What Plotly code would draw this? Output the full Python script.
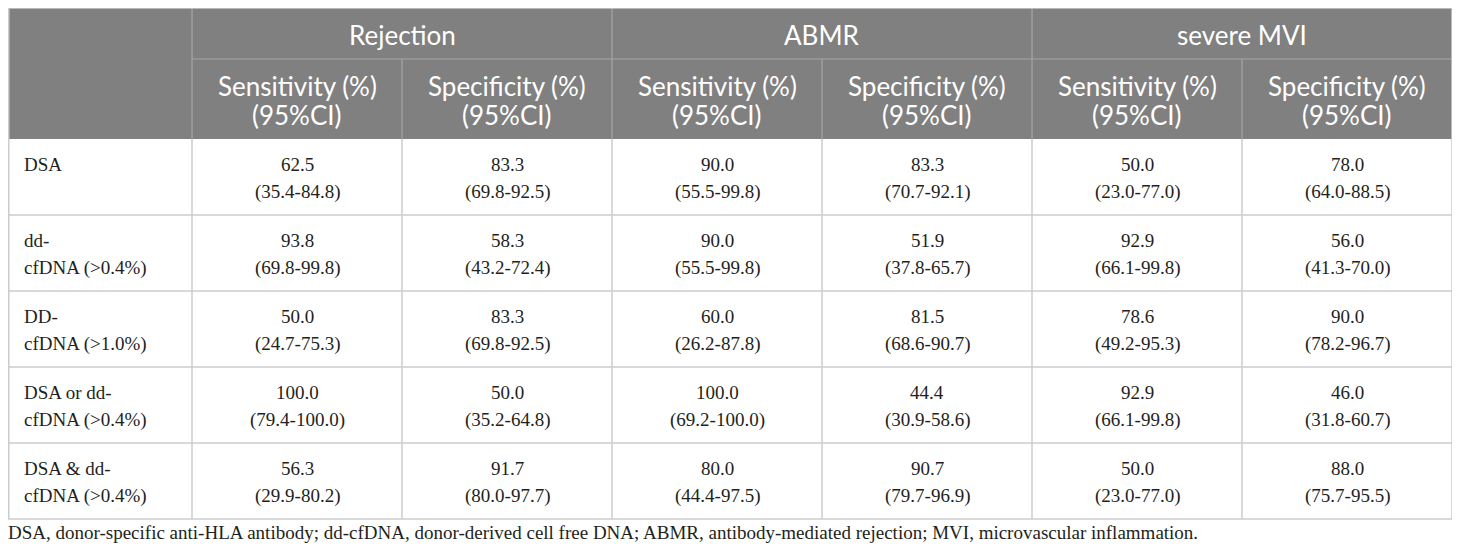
import plotly.graph_objects as go

# ---------------- data ----------------
groups = ["Rejection", "ABMR", "severe MVI"]
metrics = ["Sensitivity (%)", "Specificity (%)"]
metric_sub = "(95%CI)"
row_labels = [
    ["DSA"],
    ["dd-", "cfDNA (>0.4%)"],
    ["DD-", "cfDNA (>1.0%)"],
    ["DSA or dd-", "cfDNA (>0.4%)"],
    ["DSA & dd-", "cfDNA (>0.4%)"],
]

rej_sens = [62.5, 93.8, 50.0, 100.0, 56.3]
rej_sens_lo = [35.4, 69.8, 24.7, 79.4, 29.9]
rej_sens_hi = [84.8, 99.8, 75.3, 100.0, 80.2]
rej_spec = [83.3, 58.3, 83.3, 50.0, 91.7]
rej_spec_lo = [69.8, 43.2, 69.8, 35.2, 80.0]
rej_spec_hi = [92.5, 72.4, 92.5, 64.8, 97.7]

abmr_sens = [90.0, 90.0, 60.0, 100.0, 80.0]
abmr_sens_lo = [55.5, 55.5, 26.2, 69.2, 44.4]
abmr_sens_hi = [99.8, 99.8, 87.8, 100.0, 97.5]
abmr_spec = [83.3, 51.9, 81.5, 44.4, 90.7]
abmr_spec_lo = [70.7, 37.8, 68.6, 30.9, 79.7]
abmr_spec_hi = [92.1, 65.7, 90.7, 58.6, 96.9]

mvi_sens = [50.0, 92.9, 78.6, 92.9, 50.0]
mvi_sens_lo = [23.0, 66.1, 49.2, 66.1, 23.0]
mvi_sens_hi = [77.0, 99.8, 95.3, 99.8, 77.0]
mvi_spec = [78.0, 56.0, 90.0, 46.0, 88.0]
mvi_spec_lo = [64.0, 41.3, 78.2, 31.8, 75.7]
mvi_spec_hi = [88.5, 70.0, 96.7, 60.7, 95.5]

footnote = ("DSA, donor-specific anti-HLA antibody; dd-cfDNA, donor-derived cell free DNA; "
            "ABMR, antibody-mediated rejection; MVI, microvascular inflammation.")

# ---------------- layout / style ----------------
W, H = 1460, 557
PAGE_MARGIN = 8   # default body margin of the html page
X0 = 6            # table left
LABEL_W = 186     # first column width
COL_W = 210       # data column width
TOP = 8
H1 = 51           # header row 1 height
H2 = 80           # header row 2 height
ROW_H = 76        # body row height
LINE1 = 25        # offset of first text line within a row
LINE2 = 53        # offset of second text line within a row

HEAD_BG = "#808080"
HEAD_SEP = "#a6a6a6"
GRID = "#cccccc"
TXT = "#231f20"
SANS = "Lato"
SERIF = "Liberation Serif"
HEAD_SIZE = 26
BODY_SIZE = 19

columns = [
    (rej_sens, rej_sens_lo, rej_sens_hi),
    (rej_spec, rej_spec_lo, rej_spec_hi),
    (abmr_sens, abmr_sens_lo, abmr_sens_hi),
    (abmr_spec, abmr_spec_lo, abmr_spec_hi),
    (mvi_sens, mvi_sens_lo, mvi_sens_hi),
    (mvi_spec, mvi_spec_lo, mvi_spec_hi),
]
ncol = len(columns)
nrow = len(row_labels)

col_edges = [X0] + [X0 + LABEL_W + k * COL_W for k in range(ncol + 1)]
RIGHT = col_edges[-1]
LEFT_LINE = max(X0, PAGE_MARGIN + 0.75)   # keep the left border inside the drawable area
HEAD_BOT = TOP + H1 + H2
row_edges = [HEAD_BOT + r * ROW_H for r in range(nrow + 1)]
BOTTOM = row_edges[-1]

fig = go.Figure()
fig.add_trace(go.Scatter(x=[PAGE_MARGIN, W], y=[PAGE_MARGIN, H], mode="markers",
                         marker=dict(opacity=0), hoverinfo="skip", showlegend=False))

shapes = []
annotations = []

# header background
shapes.append(dict(type="rect", x0=X0, x1=RIGHT, y0=TOP, y1=HEAD_BOT,
                   fillcolor=HEAD_BG, line=dict(width=0), layer="below"))
# header separators
shapes.append(dict(type="line", x0=col_edges[1], x1=RIGHT, y0=TOP + H1, y1=TOP + H1,
                   line=dict(color=HEAD_SEP, width=1.2)))
for k in range(1, ncol + 1):
    y_start = TOP if (k - 1) % 2 == 0 else TOP + H1
    shapes.append(dict(type="line", x0=col_edges[k], x1=col_edges[k], y0=y_start, y1=HEAD_BOT,
                       line=dict(color=HEAD_SEP, width=1.2)))
# outer border of header
shapes.append(dict(type="line", x0=X0, x1=RIGHT, y0=TOP, y1=TOP, line=dict(color=GRID, width=1.5)))
shapes.append(dict(type="line", x0=LEFT_LINE, x1=LEFT_LINE, y0=TOP, y1=HEAD_BOT,
                   line=dict(color=GRID, width=1.5)))
shapes.append(dict(type="line", x0=RIGHT, x1=RIGHT, y0=TOP, y1=HEAD_BOT, line=dict(color=GRID, width=1.5)))

# body grid
for r in range(1, nrow + 1):
    shapes.append(dict(type="line", x0=X0, x1=RIGHT, y0=row_edges[r], y1=row_edges[r],
                       line=dict(color=GRID, width=1.5)))
for xe in [LEFT_LINE] + col_edges[1:]:
    shapes.append(dict(type="line", x0=xe, x1=xe, y0=HEAD_BOT, y1=BOTTOM,
                       line=dict(color=GRID, width=1.5)))

# header texts
for g, name in enumerate(groups):
    cx = (col_edges[1 + 2 * g] + col_edges[3 + 2 * g]) / 2
    annotations.append(dict(x=cx, y=TOP + H1 / 2 + 1, text=name, showarrow=False,
                            xanchor="center", yanchor="middle",
                            font=dict(family=SANS, size=HEAD_SIZE, color="white")))
for k in range(ncol):
    cx = (col_edges[1 + k] + col_edges[2 + k]) / 2
    annotations.append(dict(x=cx, y=TOP + H1 + 27, text=metrics[k % 2], showarrow=False,
                            xanchor="center", yanchor="middle",
                            font=dict(family=SANS, size=HEAD_SIZE, color="white")))
    annotations.append(dict(x=cx, y=TOP + H1 + 56, text=metric_sub, showarrow=False,
                            xanchor="center", yanchor="middle",
                            font=dict(family=SANS, size=HEAD_SIZE, color="white")))

# body texts
for r in range(nrow):
    ytop = row_edges[r]
    for li, line in enumerate(row_labels[r]):
        annotations.append(dict(x=X0 + 16, y=ytop + (LINE1 if li == 0 else LINE2), text=line,
                                showarrow=False, xanchor="left", yanchor="middle",
                                font=dict(family=SERIF, size=BODY_SIZE, color=TXT)))
    for k, (vals, los, his) in enumerate(columns):
        cx = (col_edges[1 + k] + col_edges[2 + k]) / 2
        annotations.append(dict(x=cx, y=ytop + LINE1, text=f"{vals[r]:.1f}", showarrow=False,
                                xanchor="center", yanchor="middle",
                                font=dict(family=SERIF, size=BODY_SIZE, color=TXT)))
        annotations.append(dict(x=cx, y=ytop + LINE2, text=f"({los[r]:.1f}-{his[r]:.1f})",
                                showarrow=False, xanchor="center", yanchor="middle",
                                font=dict(family=SERIF, size=BODY_SIZE, color=TXT)))

# footnote (anchored inside the axis range, shifted to the table's left edge)
annotations.append(dict(x=PAGE_MARGIN, xshift=X0 - PAGE_MARGIN, y=BOTTOM + 13, text=footnote,
                        showarrow=False, xanchor="left", yanchor="middle",
                        font=dict(family=SERIF, size=BODY_SIZE, color=TXT)))

fig.update_layout(
    width=W - PAGE_MARGIN, height=H - PAGE_MARGIN, margin=dict(l=0, r=0, t=0, b=0),
    paper_bgcolor="white", plot_bgcolor="white",
    xaxis=dict(range=[PAGE_MARGIN, W], visible=False, fixedrange=True),
    yaxis=dict(range=[H, PAGE_MARGIN], visible=False, fixedrange=True),
    shapes=shapes, annotations=annotations, showlegend=False,
)

fig.write_html("out.html")
